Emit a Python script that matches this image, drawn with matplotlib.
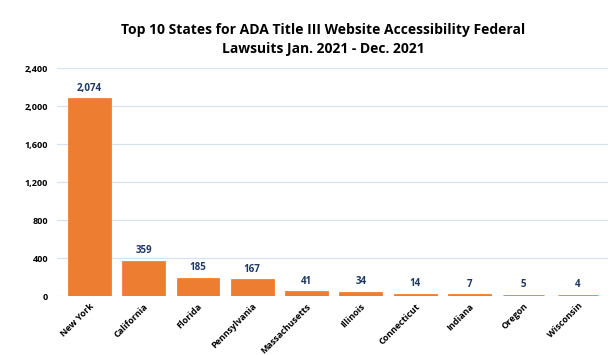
import numpy as np
import matplotlib.pyplot as plt

states = ["New York", "California", "Florida", "Pennsylvania", "Massachusetts",
          "Illinois", "Connecticut", "Indiana", "Oregon", "Wisconsin"]
lawsuits = [2074, 359, 185, 167, 41, 34, 14, 7, 5, 4]
yticks = [0, 400, 800, 1200, 1600, 2000, 2400]

BAR_COLOR = "#ED7D31"
LABEL_COLOR = "#1F3864"

plt.rcParams["font.family"] = ["Open Sans", "DejaVu Sans"]

fig = plt.figure(figsize=(6.16, 3.55), dpi=100)
ax = fig.add_axes([0.092, 0.166, 0.895, 0.642])

x = np.arange(len(states))
ax.bar(x, lawsuits, width=0.75, color=BAR_COLOR, edgecolor=BAR_COLOR,
       linewidth=2, zorder=3)

for xi, v in zip(x, lawsuits):
    ax.annotate(f"{v:,}", (xi, v), xytext=(0, 4), textcoords="offset points",
                ha="center", va="bottom", fontsize=7, fontweight="bold",
                color=LABEL_COLOR)

ax.set_ylim(0, 2400)
ax.set_xlim(-0.6, len(states) - 0.45)
ax.set_yticks(yticks)
ax.set_yticklabels([f"{t:,}" for t in yticks], fontsize=6.5, fontweight="bold")
ax.set_xticks(x)
ax.set_xticklabels(states, rotation=45, ha="right", rotation_mode="anchor",
                   fontsize=6.5, fontweight="bold")
ax.tick_params(length=0, pad=6)
ax.tick_params(axis="x", pad=4)
ax.grid(axis="y", color="#D6E2EE", linewidth=0.9, zorder=0)
for s in ax.spines.values():
    s.set_visible(False)

fig.text(0.525, 0.915, "Top 10 States for ADA Title III Website Accessibility Federal",
         ha="center", va="center", fontsize=10, fontweight="bold")
fig.text(0.525, 0.863, "Lawsuits Jan. 2021 - Dec. 2021",
         ha="center", va="center", fontsize=10, fontweight="bold")

fig.savefig("out.png", dpi=100)
